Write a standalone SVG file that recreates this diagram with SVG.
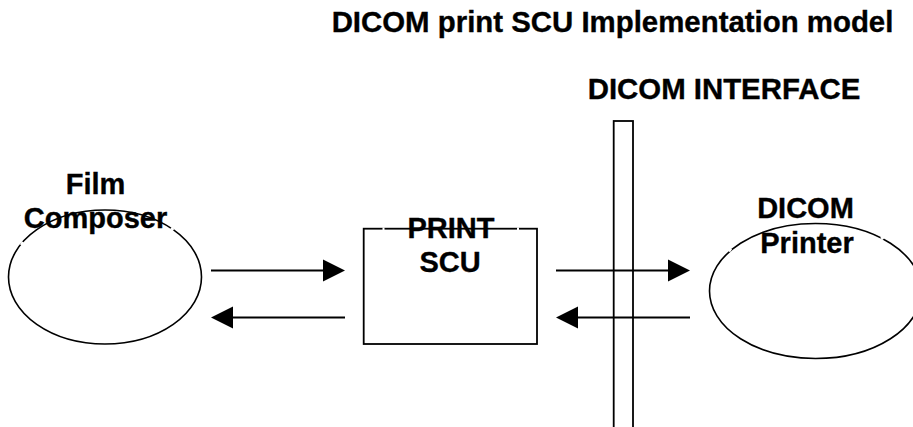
<svg xmlns="http://www.w3.org/2000/svg" width="913" height="427" viewBox="0 0 913 427">
<style>
.s{fill:none;stroke:#000;stroke-width:1.8}
.e{fill:none;stroke:#000;stroke-width:1.6}
.c{fill:none;stroke:#000;stroke-width:2}
.g{fill:none;stroke:#fff;stroke-width:2.6}
.h{fill:#000;stroke:none}
text{font-family:"Liberation Sans",Arial,sans-serif;font-weight:700;font-size:29px;fill:#000;stroke:#000;stroke-width:.35;text-anchor:middle}
.t{font-size:29.4px}
</style>
<rect width="913" height="427" fill="#fff"/>
<g id="title"><text class="t" x="612.5" y="32.3">DICOM print SCU Implementation model</text></g>
<g id="interface">
<rect class="s" x="613.7" y="121" width="19.3" height="307"/>
<text class="t" x="724" y="98.5">DICOM INTERFACE</text>
</g>
<g id="film-composer">
<ellipse class="e" cx="105" cy="277" rx="96.5" ry="67"/>
<path class="g" d="M21 245L23 242M171 228L173.500 230"/>
<text x="95.500" y="193.500">Film</text>
<text x="95.500" y="228">Composer</text>
</g>
<g id="print-scu">
<rect class="s" x="363.7" y="228.7" width="173.3" height="115.3"/>
<path class="g" d="M382.5 228.7H384.5M517 228.7H519"/>
<text x="451" y="237.5">PRINT</text>
<text x="450" y="271.5">SCU</text>
</g>
<g id="dicom-printer">
<ellipse class="e" cx="815.5" cy="291" rx="106" ry="67.5"/>
<path class="g" d="M729 251.500L731 248.500M881 237L883.500 239"/>
<text x="805.500" y="218">DICOM</text>
<text x="807" y="253">Printer</text>
</g>
<g id="connectors">
<path class="c" d="M211 270.5H325"/><polygon class="h" points="323,259.5 345,270.5 323,281.5"/>
<path class="c" d="M345 317.5H233"/><polygon class="h" points="233,306.5 211,317.5 233,328.5"/>
<path class="c" d="M556 270.5H670"/><polygon class="h" points="668,259.5 690,270.5 668,281.5"/>
<path class="c" d="M690 317.5H578"/><polygon class="h" points="578,306.5 556,317.5 578,328.5"/>
</g>
</svg>
